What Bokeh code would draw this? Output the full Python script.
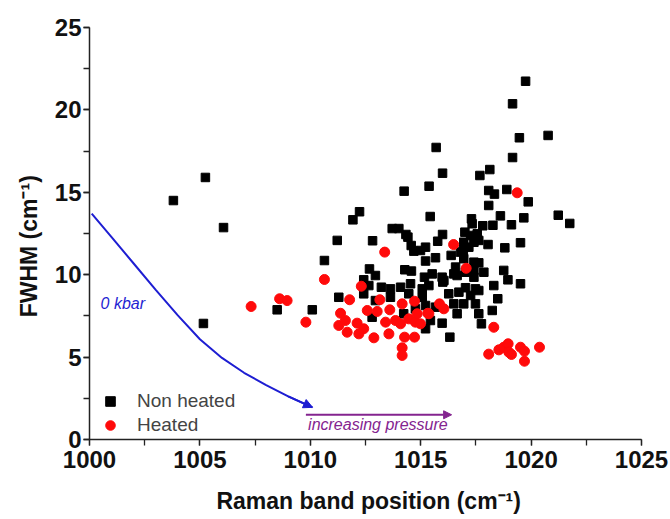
from bokeh.plotting import figure
from bokeh.models import (Range1d, SingleIntervalTicker, Legend, LegendItem,
                          Arrow, NormalHead, Label)
from bokeh.embed import file_html
from bokeh.resources import INLINE

# ---------------- data ----------------
nonheated_x = [1003.80, 1005.25, 1006.07, 1005.16, 1008.50, 1010.09, 1010.64, 1011.22, 1011.93, 1012.23,
               1012.82, 1019.75, 1019.16, 1019.47, 1020.77, 1015.70, 1019.16, 1018.13, 1017.68, 1015.99,
               1015.38, 1014.25, 1018.08, 1018.34, 1018.90, 1019.87, 1018.08, 1015.43, 1017.30, 1017.33,
               1018.61, 1019.67, 1021.23, 1021.75, 1017.81, 1018.27, 1019.11, 1013.71, 1014.01, 1014.33,
               1014.42, 1015.99, 1017.00, 1017.26, 1017.56, 1017.63, 1015.77, 1014.57, 1014.69, 1014.99,
               1015.22, 1016.95, 1017.41, 1018.05, 1018.81, 1019.52, 1016.93, 1017.18, 1015.22, 1015.67,
               1016.38, 1016.80, 1016.95, 1017.41, 1017.63, 1018.76, 1012.68, 1012.95, 1014.28, 1014.58,
               1015.17, 1015.52, 1015.97, 1016.58, 1016.65, 1017.41, 1017.86, 1012.42, 1016.05, 1016.50,
               1017.03, 1017.41, 1018.31, 1018.95, 1019.52, 1011.29, 1012.42, 1012.65, 1013.22, 1013.63,
               1013.63, 1014.09, 1014.54, 1014.46, 1015.07, 1015.07, 1015.37, 1016.27, 1016.73, 1017.26,
               1017.48, 1018.49, 1015.22, 1015.67, 1016.50, 1016.65, 1016.95, 1017.48, 1017.63, 1018.24,
               1015.44, 1015.97, 1015.22, 1017.75, 1016.32, 1012.80, 1014.23, 1014.76, 1012.95, 1016.00,
               1017.03, 1017.63]
nonheated_y = [14.50, 15.90, 12.86, 7.04, 7.87, 7.87, 10.86, 12.08, 13.33, 13.82,
               12.06, 21.74, 20.37, 18.31, 18.45, 17.72, 17.11, 16.38, 16.02, 16.16,
               15.37, 15.07, 15.11, 14.89, 15.17, 14.42, 14.20, 13.53, 13.39, 13.09,
               13.57, 13.45, 13.61, 13.11, 12.97, 13.00, 13.03, 12.80, 12.80, 12.44,
               12.28, 12.44, 12.58, 12.38, 12.48, 12.08, 12.03, 11.77, 11.43, 11.47,
               11.67, 11.97, 11.97, 11.83, 11.63, 11.94, 11.47, 11.67, 10.83, 11.03,
               11.17, 11.37, 10.97, 10.76, 10.72, 10.26, 10.35, 9.95, 10.30, 10.22,
               9.85, 10.05, 9.85, 10.46, 9.95, 10.26, 10.15, 9.69, 9.65, 10.05,
               10.15, 9.85, 9.34, 9.69, 9.45, 8.63, 8.84, 9.34, 9.24, 9.14,
               8.63, 9.24, 9.45, 8.84, 9.14, 8.63, 9.34, 8.84, 8.94, 8.74,
               9.14, 8.54, 8.13, 8.03, 8.23, 7.63, 8.23, 8.23, 7.63, 7.83,
               7.22, 7.06, 6.72, 7.02, 6.21, 7.42, 7.63, 7.93, 8.43, 9.55,
               9.21, 9.04]

heated_x = [1007.32, 1008.61, 1008.95, 1009.80, 1010.64, 1019.37, 1016.49, 1013.37, 1017.06, 1012.31,
            1011.78, 1013.15, 1014.16, 1014.72, 1015.32, 1011.37, 1012.58, 1013.03, 1013.60, 1011.29,
            1011.59, 1012.12, 1012.42, 1011.67, 1012.20, 1012.88, 1013.56, 1013.41, 1013.86, 1014.09,
            1014.46, 1014.76, 1014.99, 1014.84, 1014.27, 1014.72, 1014.16, 1014.16, 1015.85, 1016.05,
            1015.37, 1018.31, 1018.08, 1018.54, 1018.76, 1018.96, 1018.99, 1019.52, 1019.70, 1019.70,
            1020.38, 1019.11]
heated_y = [8.07, 8.54, 8.43, 7.12, 9.71, 14.97, 11.83, 11.37, 10.39, 9.30,
            8.48, 8.48, 8.23, 8.39, 7.66, 7.66, 7.83, 7.77, 7.87, 6.92,
            7.22, 7.06, 6.72, 6.51, 6.41, 6.17, 6.41, 7.12, 7.22, 7.02,
            7.32, 7.12, 7.02, 7.63, 6.21, 6.21, 5.56, 5.10, 8.23, 7.93,
            7.63, 6.81, 5.18, 5.44, 5.60, 5.81, 5.30, 5.60, 5.36, 4.75,
            5.60, 5.16]

# 0 kbar reference curve
curve_x = [1000.10, 1001.00, 1002.00, 1003.00, 1004.00, 1005.00, 1006.00, 1007.00, 1008.00, 1009.00, 1010.10]
curve_y = [13.70, 12.28, 10.68, 9.08, 7.53, 6.08, 4.95, 4.05, 3.30, 2.62, 1.95]

pressure_arrow_x = [1009.8, 1016.4]
pressure_arrow_y = [1.5, 1.5]

x_limits = [1000, 1025]
y_limits = [0, 25]

BLUE = "#1e1ed2"
PURPLE = "#84248f"
RED = "#ff0a0a"
FONT = "Liberation Sans"

p = figure(width=670, height=519, output_backend="svg", toolbar_location=None,
           x_range=Range1d(*x_limits), y_range=Range1d(*y_limits),
           min_border_left=89, min_border_right=29, min_border_top=27, min_border_bottom=80)
p.outline_line_color = None
p.grid.visible = False
p.background_fill_color = "white"

r_nh = p.scatter(nonheated_x, nonheated_y, marker="square", size=8.5, color="black")
r_h = p.scatter(heated_x, heated_y, marker="circle", size=10, color=RED)

p.line(curve_x, curve_y, line_color=BLUE, line_width=2)
p.add_layout(Arrow(end=NormalHead(size=9, fill_color=BLUE, line_color=BLUE),
                   x_start=curve_x[-2], y_start=curve_y[-2], x_end=curve_x[-1], y_end=curve_y[-1],
                   line_color=BLUE, line_width=2))
p.add_layout(Arrow(end=NormalHead(size=8, fill_color=PURPLE, line_color=PURPLE),
                   x_start=pressure_arrow_x[0], y_start=pressure_arrow_y[0],
                   x_end=pressure_arrow_x[1], y_end=pressure_arrow_y[1],
                   line_color=PURPLE, line_width=2))

p.add_layout(Label(x=1000.5, y=8.25, text="0 kbar", text_color=BLUE, text_font=FONT,
                   text_font_style="italic", text_font_size="16px", text_baseline="middle"))
p.add_layout(Label(x=1009.9, y=0.9, text="increasing pressure", text_color=PURPLE, text_font=FONT,
                   text_font_style="italic", text_font_size="16px", text_baseline="middle"))

legend = Legend(items=[LegendItem(label="Non heated", renderers=[r_nh]),
                       LegendItem(label="Heated", renderers=[r_h])],
                location=(8, 2), border_line_color=None, background_fill_alpha=0,
                label_text_font=FONT, label_text_font_size="19px",
                glyph_width=26, glyph_height=24, label_height=23, spacing=0,
                padding=0, margin=0, label_standoff=14)
p.add_layout(legend)

for ax in (p.xaxis[0], p.yaxis[0]):
    ax.ticker = SingleIntervalTicker(interval=5, num_minor_ticks=2)
    ax.major_tick_out = 6
    ax.major_tick_in = 0
    ax.minor_tick_out = 6
    ax.minor_tick_in = 0
    ax.axis_line_width = 1.5
    ax.axis_line_color = "#222222"
    ax.major_tick_line_width = 1.3
    ax.minor_tick_line_width = 1.3
    ax.major_tick_line_color = "#222222"
    ax.minor_tick_line_color = "#222222"
    ax.major_label_text_font = FONT
    ax.major_label_text_font_size = "24px"
    ax.major_label_text_font_style = "bold"
    ax.major_label_text_color = "#111111"
    ax.axis_label_text_font = FONT
    ax.axis_label_text_font_size = "23px"
    ax.axis_label_text_font_style = "bold"
    ax.axis_label_text_color = "#111111"

p.xaxis.axis_label = "\u00a0Raman band position (cm\u207b\u00b9)"
p.yaxis.axis_label = "FWHM (cm\u207b\u00b9)\u00a0\u00a0\u00a0\u00a0"
p.xaxis.major_label_standoff = 5
p.yaxis.major_label_standoff = 2
p.xaxis.axis_label_standoff = 17
p.yaxis.axis_label_standoff = 10

open("out.html", "w").write(file_html(p, INLINE))
